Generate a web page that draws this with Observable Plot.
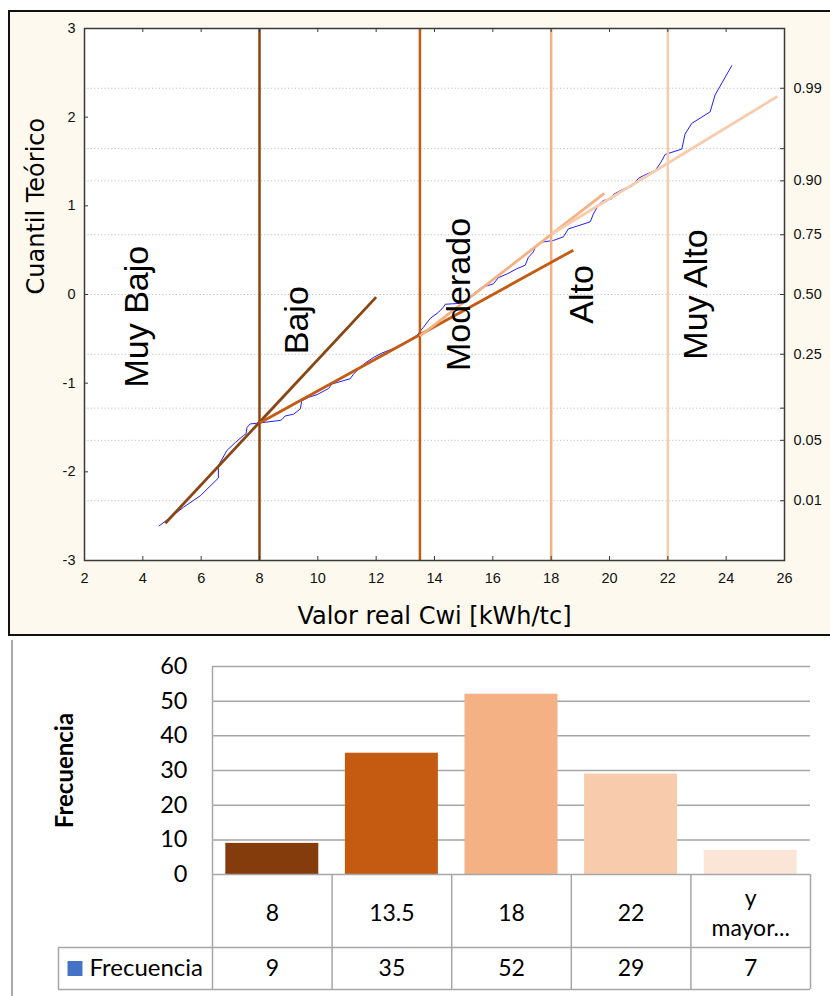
<!DOCTYPE html>
<html><head><meta charset="utf-8">
<script src="https://cdn.jsdelivr.net/npm/d3@7"></script>
<script src="https://cdn.jsdelivr.net/npm/@observablehq/plot@0.6"></script>
<style>
html,body{margin:0;padding:0;background:#fff;overflow:hidden;width:830px;height:996px;}
#page{position:relative;width:830px;height:996px;overflow:hidden;}
#topbox{position:absolute;left:8px;top:10px;width:840px;height:622px;border:2.5px solid #111;background:#fdf9ee;}
#top{position:absolute;left:0;top:0;}
#vline{position:absolute;left:11px;top:640px;width:1.5px;height:360px;background:#a8a8a8;}
#bottom{position:absolute;left:0;top:640px;}
</style></head><body>
<div id="page"><div id="topbox"></div><div id="top"></div><div id="vline"></div><div id="bottom"></div></div>
<script>
// ---------- Normal probability plot data ----------
const curveX = [4.56,5.39,5.97,6.59,6.59,6.88,7.17,7.45,7.54,7.57,7.68,7.97,8.71,8.77,8.88,9.17,9.40,9.45,9.68,9.97,10.37,10.48,11.11,11.22,11.45,11.68,11.91,12.20,12.59,12.76,13.40,13.62,13.85,14.14,14.31,14.37,14.88,15.16,15.34,15.62,16.02,16.19,16.48,16.82,17.11,17.22,17.39,17.45,17.68,18.08,18.42,18.59,18.88,19.34,19.45,19.62,19.79,20.08,20.14,20.48,20.77,20.99,21.16,21.57,21.74,21.91,22.48,22.59,22.82,23.45,23.62,24.19];
const curveY = [-2.61,-2.40,-2.27,-2.07,-1.93,-1.76,-1.67,-1.59,-1.57,-1.50,-1.46,-1.45,-1.42,-1.41,-1.37,-1.35,-1.29,-1.20,-1.16,-1.13,-1.06,-1.01,-0.95,-0.90,-0.82,-0.76,-0.71,-0.66,-0.61,-0.59,-0.46,-0.37,-0.27,-0.20,-0.14,-0.11,-0.10,-0.05,0.01,0.08,0.12,0.19,0.23,0.29,0.33,0.42,0.48,0.53,0.59,0.61,0.65,0.74,0.77,0.82,0.91,1.01,1.06,1.08,1.13,1.19,1.22,1.31,1.34,1.40,1.48,1.58,1.64,1.81,1.93,2.06,2.25,2.58];
const cutValues = [8, 13.5, 18, 22];
const cutColors = ["#8b4513", "#c55a11", "#f4b183", "#f8cbad"];
const fitX1 = [4.77, 8, 13.5, 18];
const fitY1 = [-2.58, -1.45, -0.47, 0.68];
const fitX2 = [12, 18.76, 19.82, 25.76];
const fitY2 = [-0.03, 0.5, 1.14, 2.235];
const zoneNames = ["Muy Bajo", "Bajo", "Moderado", "Alto", "Muy Alto"];
const zoneX = [4.18, 9.67, 15.22, 19.44, 23.35];
const zoneY = [-0.25, -0.29, 0, 0, 0];
const leftTicks = [-3, -2, -1, 0, 1, 2, 3];
const xTicks = [2, 4, 6, 8, 10, 12, 14, 16, 18, 20, 22, 24, 26];
const probQuantiles = [-2.326, -1.645, -1.282, -0.674, 0, 0.674, 1.282, 1.645, 2.326];
const probLabels = ["0.01", "0.05", "", "0.25", "0.50", "0.75", "0.90", "", "0.99"];

// ---------- Histogram data ----------
const binLabels = ["8", "13.5", "18", "22", "y\nmayor..."];
const frequencies = [9, 35, 52, 29, 7];
const barColors = ["#843c0c", "#c55a11", "#f4b183", "#f8cbad", "#fbe5d6"];
const freqTicks = [0, 10, 20, 30, 40, 50, 60];

// ---------- Top chart ----------
const curve = curveX.map((x, i) => ({x, y: curveY[i]}));
const cuts = cutValues.map((x, i) => ({x, color: cutColors[i]}));
const fits = fitX1.map((x1, i) => ({x1, y1: fitY1[i], x2: fitX2[i], y2: fitY2[i], color: cutColors[i]}));
const zones = zoneNames.map((name, i) => ({name, x: zoneX[i], y: zoneY[i]}));

const tW = 830, tH = 640, mL = 84, mR = 46, mT = 28, mB = 80;
const tickPx = 4;
const tkx = tickPx * 24 / (tW - mL - mR);
const tky = tickPx * 6 / (tH - mT - mB);
const tickFont = "'Liberation Sans', Arial, sans-serif";

const topChart = Plot.plot({
  width: tW, height: tH,
  marginLeft: mL, marginRight: mR, marginTop: mT, marginBottom: mB,
  x: {domain: [2, 26]},
  y: {domain: [-3, 3]},
  style: {background: "transparent", fontFamily: tickFont, overflow: "visible", color: "#111"},
  marks: [
    Plot.frame({fill: "white", stroke: null}),
    Plot.ruleY(probQuantiles, {stroke: "#c2c2c2", strokeWidth: 1, strokeDasharray: "1.2,2.2"}),
    Plot.line(curve, {x: "x", y: "y", stroke: "#1f1fff", strokeWidth: 1}),
    Plot.ruleX(cuts, {x: "x", stroke: "color", strokeWidth: 2.5}),
    Plot.link(fits, {x1: "x1", y1: "y1", x2: "x2", y2: "y2", stroke: "color", strokeWidth: 2.8}),
    Plot.text(zones, {x: "x", y: "y", text: "name", rotate: -90, lineAnchor: "bottom", fontSize: 34, fontFamily: tickFont, fill: "#000"}),
    Plot.frame({stroke: "#3a3a3a", strokeWidth: 1.5}),
    Plot.ruleY(leftTicks, {x1: 2, x2: 2 + tkx, stroke: "#3a3a3a"}),
    Plot.ruleY(probQuantiles, {x1: 26 - tkx, x2: 26, stroke: "#3a3a3a"}),
    Plot.ruleX(xTicks, {y1: -3, y2: -3 + tky, stroke: "#3a3a3a"}),
    Plot.ruleX(xTicks, {y1: 3 - tky, y2: 3, stroke: "#3a3a3a"}),
    Plot.axisY({anchor: "left", ticks: leftTicks, tickFormat: d => String(d), tickSize: 0, tickPadding: 9, fontSize: 14.5, label: null}),
    Plot.axisY({anchor: "right", ticks: probQuantiles, tickFormat: d => probLabels[probQuantiles.indexOf(d)], tickSize: 0, tickPadding: 9, fontSize: 14.5, label: null}),
    Plot.axisX({anchor: "bottom", ticks: xTicks, tickFormat: d => String(d), tickSize: 0, tickPadding: 12, fontSize: 14.5, label: null}),
    Plot.text(["Valor real Cwi [kWh/tc]"], {frameAnchor: "bottom", dy: 63, lineAnchor: "bottom", fontSize: 24, fontFamily: "'DejaVu Sans', Verdana, sans-serif", fill: "#000"}),
    Plot.text(["Cuantil Teórico"], {frameAnchor: "left", dx: -41, rotate: -90, lineAnchor: "bottom", fontSize: 24, fontFamily: "'DejaVu Sans', Verdana, sans-serif", fill: "#000"})
  ]
});
document.getElementById("top").appendChild(topChart);

// ---------- Bottom chart (histogram + data table) ----------
const bars = binLabels.map((label, i) => ({i, label, value: frequencies[i], color: barColors[i]}));
const bW = 830, bH = 356, bmL = 212, bmR = 20, bmT = 26, bmB = 7;
const colW = (bW - bmL - bmR) / 5;
const pxPerUnit = 208.3 / 60;
const row1 = 73 / pxPerUnit, row2 = 42 / pxPerUnit;
const yMin = -(row1 + row2);
const px2x = p => (p - bmL) / colW;
const legendLeft = px2x(58);
const gridColor = "#a6a6a6";
const cFont = "Lato, 'Open Sans', sans-serif";

const bottomChart = Plot.plot({
  width: bW, height: bH,
  marginLeft: bmL, marginRight: bmR, marginTop: bmT, marginBottom: bmB,
  x: {domain: [0, 5], axis: null},
  y: {domain: [yMin, 60]},
  style: {background: "transparent", fontFamily: cFont, overflow: "visible", color: "#000"},
  marks: [
    Plot.ruleY(freqTicks.slice(1), {x1: 0, x2: 5, stroke: gridColor, strokeWidth: 1.5}),
    Plot.rectY(bars, {x1: "i", x2: d => d.i + 1, y1: 0, y2: "value", fill: "color", insetLeft: 13.3, insetRight: 13.3}),
    Plot.ruleX([0], {y1: 0, y2: 60, stroke: gridColor, strokeWidth: 1.5}),
    Plot.ruleY([0], {x1: 0, x2: 5, stroke: gridColor, strokeWidth: 1.5}),
    Plot.ruleY([-row1, yMin], {x1: legendLeft, x2: 5, stroke: gridColor, strokeWidth: 1.5}),
    Plot.ruleX([0, 1, 2, 3, 4, 5], {y1: yMin, y2: 0, stroke: gridColor, strokeWidth: 1.5}),
    Plot.ruleX([legendLeft], {y1: yMin, y2: -row1, stroke: gridColor, strokeWidth: 1.5}),
    Plot.text(bars, {x: d => d.i + 0.5, y: () => -row1 / 2, text: "label", fontSize: 23, lineHeight: 1.3, fill: "#000"}),
    Plot.text(bars, {x: d => d.i + 0.5, y: () => -(row1 + row2 / 2), text: d => String(d.value), fontSize: 23, fill: "#000"}),
    Plot.dot([0], {x: () => px2x(74.5), y: () => -(row1 + row2 / 2), symbol: "square", r: 8.46, fill: "#4472c4", stroke: null}),
    Plot.text(["Frecuencia"], {x: () => px2x(89), y: () => -(row1 + row2 / 2), textAnchor: "start", fontSize: 24, fill: "#000"}),
    Plot.axisY({anchor: "left", ticks: freqTicks, tickSize: 0, tickPadding: 25, fontSize: 23.5, label: null}),
    Plot.text(["Frecuencia"], {x: () => px2x(72), y: () => 30, rotate: -90, lineAnchor: "bottom", fontSize: 24, fontWeight: "bold", fill: "#000"})
  ]
});
document.getElementById("bottom").appendChild(bottomChart);
</script>
</body></html>
